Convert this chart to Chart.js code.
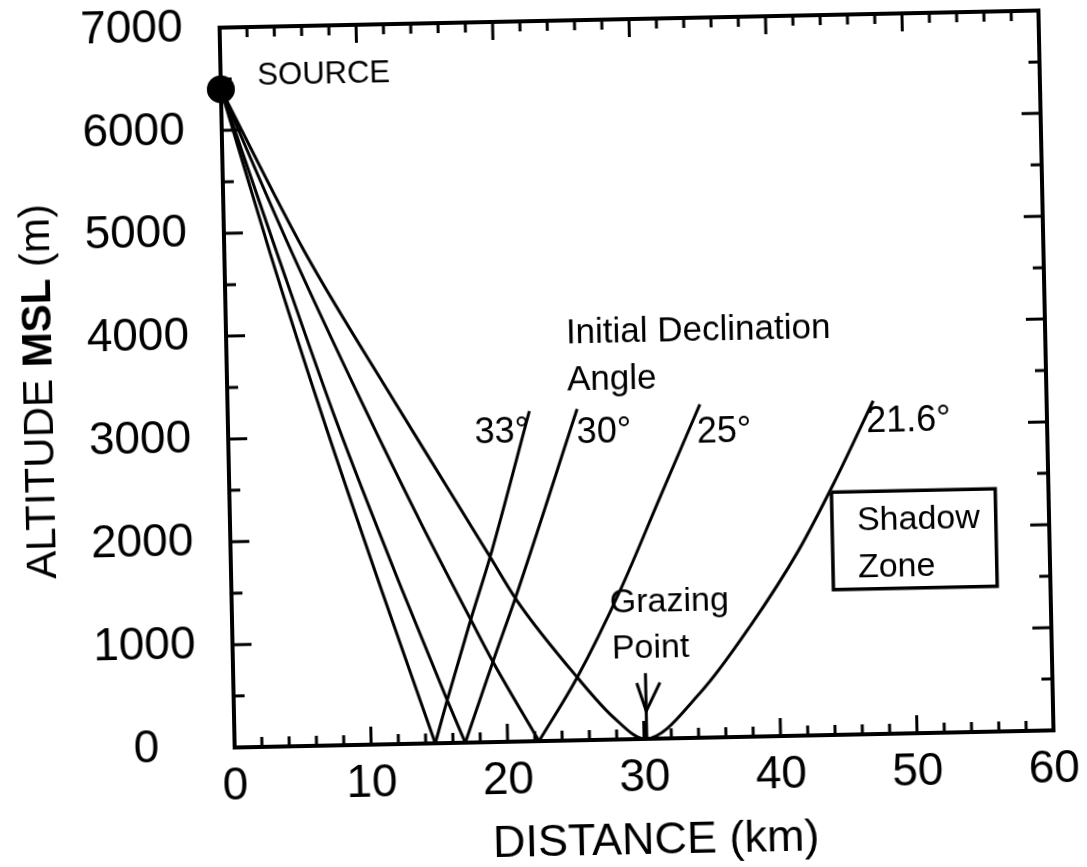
<!DOCTYPE html>
<html>
<head>
<meta charset="utf-8">
<title>Ray paths from source</title>
<script src="https://cdn.jsdelivr.net/npm/chart.js@4.4.0/dist/chart.umd.min.js"></script>
<style>
  html, body { margin: 0; padding: 0; background: #fff; overflow: hidden; }
  /* the scanned figure is tilted a little, so the whole canvas is too */
  #c { display: block; transform: rotate(-1.2deg); transform-origin: 637px 377px; }
</style>
</head>
<body>
<canvas id="c" width="1087" height="867"></canvas>
<script>
// ---------------- data ----------------
const xTicks = [0, 10, 20, 30, 40, 50, 60];
const yTicks = [0, 1000, 2000, 3000, 4000, 5000, 6000, 7000];
const xMinor = 2;
const yMinor = 500;

const source = [{ x: 0, y: 6400 }];

// 33 deg ray
const ray33DownX = [0, 3.35, 7.1, 11.0, 14.7];
const ray33DownY = [6400, 4800, 3130, 1500, 0];
const ray33UpX = [14.7, 15.6, 17.5, 19.0, 22.1];
const ray33UpY = [0, 400, 1200, 1800, 3210];

// 30 deg ray
const ray30DownX = [0, 3.85, 8.0, 12.5, 15.6, 16.9];
const ray30DownY = [6400, 4800, 3130, 1500, 430, 0];
const ray30UpX = [16.9, 19.1, 20.8, 25.6];
const ray30UpY = [0, 800, 1400, 3220];

// 25 deg ray
const ray25DownX = [0, 4.95, 9.84, 14.0, 17.6, 19.05, 22.3];
const ray25DownY = [6400, 4800, 3330, 2140, 1165, 780, 0];
const ray25UpX = [22.3, 25.2, 28.5, 31.5, 34.6];
const ray25UpY = [0, 612, 1455, 2335, 3240];

// 21.6 deg ray (grazing)
const ray216X = [0, 5.9, 12.26, 16.0, 19.0, 20.9, 25.2, 27.8, 30.1, 34.2, 38.0, 41.6, 44.3, 47.3];
const ray216Y = [6400, 4800, 3325, 2480, 1800, 1370, 612, 215, 0, 440, 1085, 1800, 2450, 3240];

// grazing point arrow
const arrowShaftX = [30.2, 30.2];
const arrowShaftY = [640, 0];
const arrowHeadX = [29.55, 30.2, 31.25];
const arrowHeadY = [545, 270, 545];

// shadow zone box
const boxX = [44.1, 56.1, 56.1, 44.1, 44.1];
const boxY = [2361, 2361, 1412, 1412, 2361];

const notes = [
  { text: 'SOURCE', x: 2.7, y: 6438, size: 31 },
  { text: 'Initial Declination', x: 24.9, y: 3858, size: 35 },
  { text: 'Angle', x: 24.9, y: 3401, size: 35 },
  { text: '33°', x: 18.06, y: 2910, size: 36 },
  { text: '30°', x: 25.54, y: 2890, size: 36 },
  { text: '25°', x: 34.34, y: 2865, size: 36 },
  { text: '21.6°', x: 46.75, y: 2937, size: 36 },
  { text: 'Shadow', x: 45.93, y: 1985, size: 34 },
  { text: 'Zone', x: 45.93, y: 1528, size: 34 },
  { text: 'Grazing', x: 27.7, y: 1238, size: 34 },
  { text: 'Point', x: 27.78, y: 790, size: 34 }
];

const FONT = "'Liberation Sans', Arial, sans-serif";

function pts(xs, ys) {
  return xs.map((v, i) => ({ x: v, y: ys[i] }));
}

function line(xs, ys, smooth) {
  return {
    data: pts(xs, ys),
    showLine: true,
    borderColor: '#000',
    borderWidth: 3,
    pointRadius: 0,
    fill: false,
    tension: 0,
    cubicInterpolationMode: smooth ? 'monotone' : 'default'
  };
}

// frame with inward ticks on all four sides
const frameTicks = {
  id: 'frameTicks',
  afterDatasetsDraw(chart) {
    const { ctx, chartArea: a, scales: { x, y } } = chart;
    ctx.save();
    ctx.strokeStyle = '#000';
    ctx.lineWidth = 3;
    ctx.beginPath();
    for (let v = xTicks[0]; v <= xTicks[xTicks.length - 1]; v += xMinor) {
      const px = x.getPixelForValue(v);
      const len = xTicks.includes(v) ? 18 : 10;
      ctx.moveTo(px, a.bottom); ctx.lineTo(px, a.bottom - len);
      ctx.moveTo(px, a.top); ctx.lineTo(px, a.top + len);
    }
    for (let v = yTicks[0]; v <= yTicks[yTicks.length - 1]; v += yMinor) {
      const py = y.getPixelForValue(v);
      const len = yTicks.includes(v) ? 19 : 11;
      ctx.moveTo(a.left, py); ctx.lineTo(a.left + len, py);
      ctx.moveTo(a.right, py); ctx.lineTo(a.right - len, py);
    }
    ctx.stroke();
    ctx.lineWidth = 4;
    ctx.strokeRect(a.left, a.top, a.right - a.left, a.bottom - a.top);
    ctx.restore();
  }
};

// text labels and axis titles
const textNotes = {
  id: 'textNotes',
  afterDraw(chart) {
    const { ctx, chartArea: a, scales: { x, y } } = chart;
    ctx.save();
    ctx.fillStyle = '#000';
    ctx.textAlign = 'left';
    ctx.textBaseline = 'alphabetic';
    notes.forEach(n => {
      ctx.font = n.size + 'px ' + FONT;
      ctx.fillText(n.text, x.getPixelForValue(n.x), y.getPixelForValue(n.y));
    });

    // x title
    ctx.font = '45px ' + FONT;
    ctx.textAlign = 'center';
    ctx.textBaseline = 'middle';
    ctx.fillText('DISTANCE (km)', (a.left + a.right) / 2 + 10, a.bottom + 103);

    // y title, MSL is bold in the figure
    const parts = [['ALTITUDE ', ''], ['MSL', 'bold '], [' (m)', '']];
    ctx.translate(40, (a.top + a.bottom) / 2);
    ctx.rotate(-Math.PI / 2);
    ctx.textAlign = 'left';
    let total = 0;
    parts.forEach(p => { ctx.font = p[1] + '42px ' + FONT; total += ctx.measureText(p[0]).width; });
    let cx = -total / 2;
    parts.forEach(p => {
      ctx.font = p[1] + '42px ' + FONT;
      ctx.fillText(p[0], cx, 0);
      cx += ctx.measureText(p[0]).width;
    });
    ctx.restore();
  }
};

function noPad(s) {
  s.paddingTop = 0; s.paddingBottom = 0; s.paddingLeft = 0; s.paddingRight = 0;
}

const datasets = [
  line(ray33DownX, ray33DownY, true),
  line(ray33UpX, ray33UpY, true),
  line(ray30DownX, ray30DownY, true),
  line(ray30UpX, ray30UpY, true),
  line(ray25DownX, ray25DownY, true),
  line(ray25UpX, ray25UpY, true),
  line(ray216X, ray216Y, true),
  line(arrowShaftX, arrowShaftY, false),
  line(arrowHeadX, arrowHeadY, false),
  line(boxX, boxY, false),
  {
    data: source,
    showLine: false,
    pointRadius: 14,
    pointBackgroundColor: '#000',
    pointBorderColor: '#000',
    pointBorderWidth: 0
  }
];
datasets[datasets.length - 2].borderWidth = 3.5;

new Chart(document.getElementById('c'), {
  type: 'scatter',
  data: { datasets: datasets },
  options: {
    responsive: false,
    animation: false,
    events: [],
    clip: false,
    layout: { padding: { left: 0, top: 19, right: 41, bottom: 0 } },
    plugins: { legend: { display: false }, tooltip: { enabled: false } },
    scales: {
      x: {
        type: 'linear',
        min: 0,
        max: 60,
        afterBuildTicks: s => { s.ticks = xTicks.map(v => ({ value: v })); },
        afterFit: s => { s.height = 128; noPad(s); },
        grid: { display: false, drawTicks: false },
        border: { display: false },
        ticks: {
          padding: 12,
          maxRotation: 0,
          color: '#000',
          font: { family: FONT, size: 46 },
          callback: v => String(v)
        }
      },
      y: {
        type: 'linear',
        min: 0,
        max: 7000,
        afterBuildTicks: s => { s.ticks = yTicks.map(v => ({ value: v })); },
        afterFit: s => { s.width = 227; noPad(s); },
        grid: { display: false, drawTicks: false },
        border: { display: false },
        ticks: {
          padding: 37,
          crossAlign: 'center',
          color: '#000',
          font: { family: FONT, size: 46 },
          callback: v => String(v)
        }
      }
    }
  },
  plugins: [frameTicks, textNotes]
});
</script>
</body>
</html>
